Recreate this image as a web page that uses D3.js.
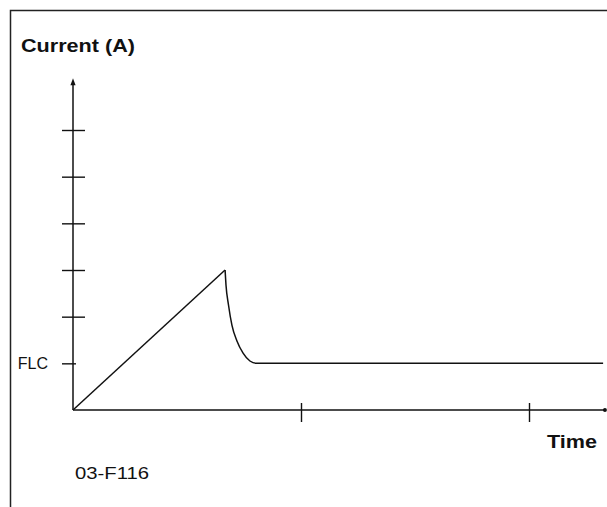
<!DOCTYPE html>
<html>
<head>
<meta charset="utf-8">
<script src="https://cdn.jsdelivr.net/npm/d3@7"></script>
<style>
  html, body { margin: 0; padding: 0; background: #fff; }
  svg { display: block; }
  text { font-family: "Liberation Sans", Arial, Helvetica, sans-serif; fill: #111; }
</style>
</head>
<body>
<svg id="chart" width="607" height="507"></svg>
<script>
// ---- data (time in tick units, current in multiples of FLC) ----
const timeTicks = [1, 2];
const currentTicks = [1, 2, 3, 4, 5, 6];
const currentTickLabels = ["FLC", "", "", "", "", ""];
const rampTime = [0, 0.667];
const rampCurrent = [0, 3];
const decayTime = [0.667, 0.671, 0.682, 0.697, 0.719, 0.746, 0.776, 0.803, 2.325];
const decayCurrent = [3, 2.68, 2.25, 1.82, 1.48, 1.22, 1.05, 1.0, 1.0];
const axisMax = { time: 2.333, current: 7.11 };
const texts = { yTitle: "Current (A)", xTitle: "Time", code: "03-F116" };

const svg = d3.select("#chart");
const ink = "#111";

// frame (scanned figure border: left and top)
svg.append("path")
  .attr("d", "M10.5,507 V10.5 H607")
  .attr("fill", "none").attr("stroke", "#222").attr("stroke-width", 1.5);

const x = d3.scaleLinear().domain([0, 2]).range([73, 529]);
const y = d3.scaleLinear().domain([0, 6]).range([410, 130]);

// y axis ticks via d3 axis
const yAxis = d3.axisLeft(y)
  .tickValues(currentTicks)
  .tickSize(11)
  .tickPadding(14)
  .tickFormat((d, i) => currentTickLabels[i]);
const gy = svg.append("g").attr("transform", `translate(${x(0)},0)`).call(yAxis);
gy.select(".domain").remove();
gy.selectAll(".tick line")
  .attr("stroke", ink).attr("stroke-width", 1.4)
  .attr("x1", d => d === 1 ? 3 : 12);
gy.selectAll(".tick text")
  .attr("font-size", 16).attr("fill", ink)
  .style("font-family", "'Liberation Sans', Arial, sans-serif");

// x axis ticks via d3 axis
const xAxis = d3.axisBottom(x).tickValues(timeTicks).tickSize(12).tickFormat("");
const gx = svg.append("g").attr("transform", `translate(0,${y(0)})`).call(xAxis);
gx.select(".domain").remove();
gx.selectAll(".tick line").attr("stroke", ink).attr("stroke-width", 1.4).attr("y1", -7);

// axis lines
svg.append("line")
  .attr("x1", x(0)).attr("x2", x(0))
  .attr("y1", y(0)).attr("y2", y(axisMax.current) + 3)
  .attr("stroke", ink).attr("stroke-width", 1.5);
svg.append("path")
  .attr("d", `M${x(0)},${y(axisMax.current)} l-2.6,7 h5.2 z`)
  .attr("fill", ink);
svg.append("line")
  .attr("x1", x(0)).attr("x2", x(axisMax.time))
  .attr("y1", y(0)).attr("y2", y(0))
  .attr("stroke", ink).attr("stroke-width", 1.5);
svg.append("circle")
  .attr("cx", x(axisMax.time)).attr("cy", y(0)).attr("r", 2)
  .attr("fill", ink);

// curve
const ramp = rampTime.map((t, i) => [t, rampCurrent[i]]);
const decay = decayTime.map((t, i) => [t, decayCurrent[i]]);
svg.append("path")
  .datum(ramp)
  .attr("d", d3.line().x(d => x(d[0])).y(d => y(d[1])))
  .attr("fill", "none").attr("stroke", ink).attr("stroke-width", 1.5)
  .attr("stroke-linejoin", "miter");
svg.append("path")
  .datum(decay)
  .attr("d", d3.line().x(d => x(d[0])).y(d => y(d[1])).curve(d3.curveMonotoneX))
  .attr("fill", "none").attr("stroke", ink).attr("stroke-width", 1.5);

// titles
svg.append("text")
  .attr("x", 21).attr("y", 52)
  .attr("font-size", 19).attr("font-weight", "bold")
  .attr("textLength", 114).attr("lengthAdjust", "spacingAndGlyphs")
  .text(texts.yTitle);
svg.append("text")
  .attr("x", 547).attr("y", 448)
  .attr("font-size", 19).attr("font-weight", "bold")
  .attr("textLength", 50).attr("lengthAdjust", "spacingAndGlyphs")
  .text(texts.xTitle);
svg.append("text")
  .attr("x", 75).attr("y", 479)
  .attr("font-size", 16.5)
  .attr("textLength", 74).attr("lengthAdjust", "spacingAndGlyphs")
  .text(texts.code);
</script>
</body>
</html>
